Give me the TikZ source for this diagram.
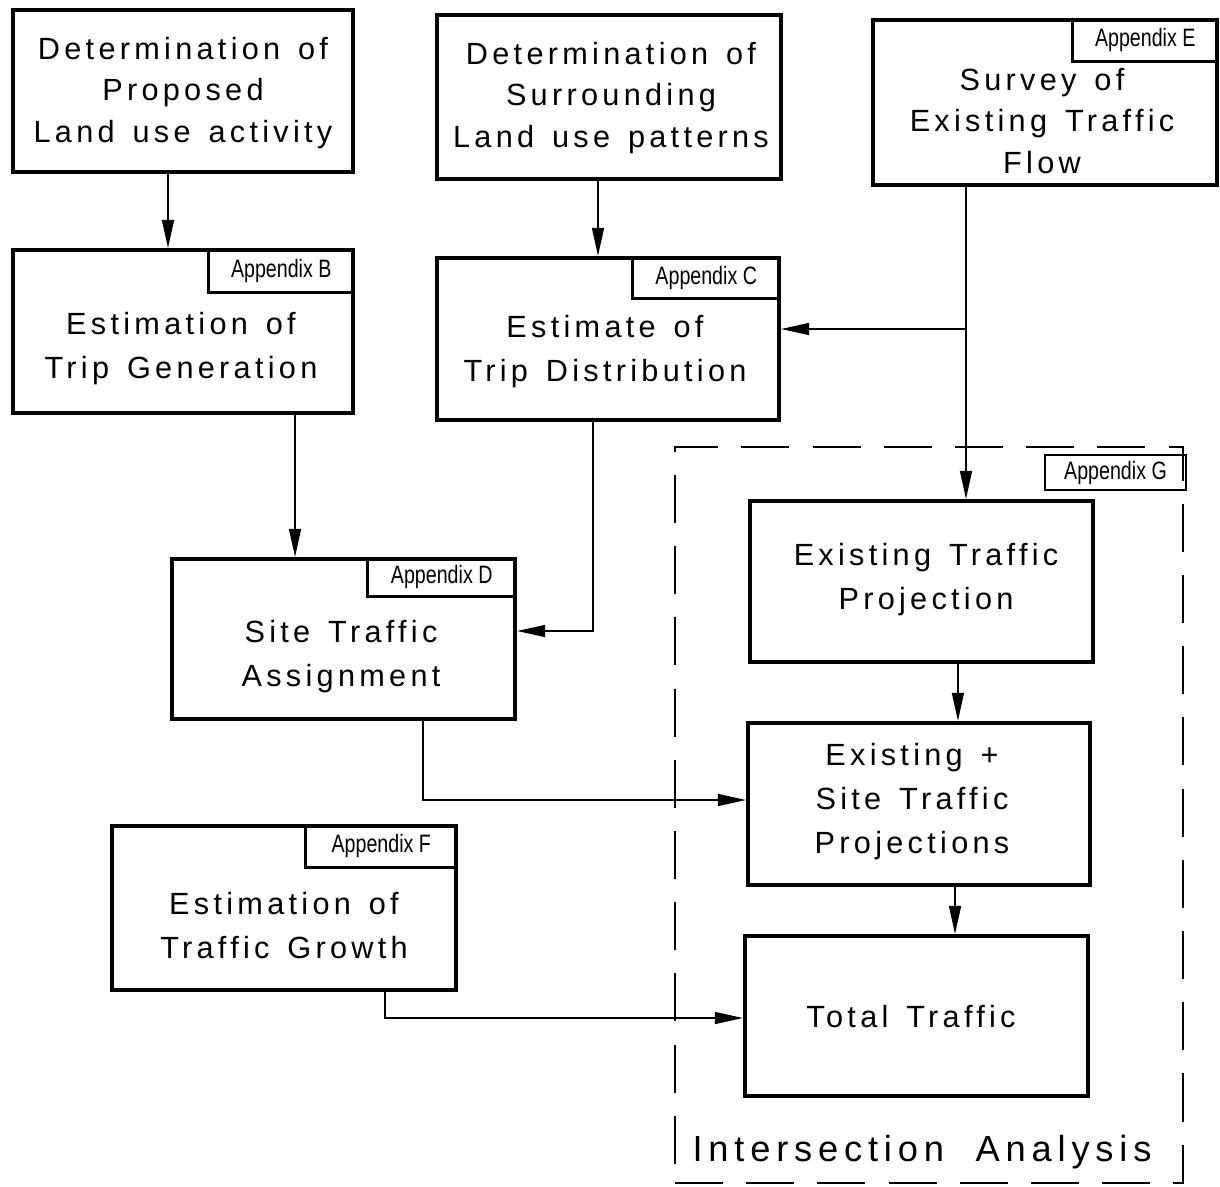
\documentclass[tikz,border=0pt]{standalone}
\usepackage{fontspec}
\setmainfont{Liberation Sans}[LetterSpace=14,WordSpace=1.4]
\newfontfamily\tabfont{Liberation Sans}[FakeStretch=0.78]
\newfontfamily\iafont{Liberation Sans}[LetterSpace=16,WordSpace=2]
\usetikzlibrary{arrows.meta,calc}
\begin{document}
\begin{tikzpicture}[x=0.025cm,y=-0.025cm,
  box/.style={draw,line width=3pt,inner sep=0pt},
  tabbox/.style={draw,line width=2pt,inner sep=0pt,font=\tabfont\fontsize{17.9}{20}\selectfont,anchor=north east},
  txt/.style={align=center,inner sep=0pt,font=\fontsize{21.8}{31.3}\selectfont},
  txtt/.style={align=center,inner sep=0pt,font=\fontsize{21.8}{29.8}\selectfont},
  arr/.style={line width=1pt,-{Triangle[length=0.7cm,width=0.3cm]}},
  region/.style={draw,line width=1.2pt,dash pattern=on 1.2cm off 0.58cm,inner sep=0pt}]
\useasboundingbox (0,0) rectangle (1220,1186);

% dashed region
\node[region,minimum width=12.7cm,minimum height=18.4cm] (ia) at (929,815) {};
\node[inner sep=0pt,font=\iafont\fontsize{25.8}{30}\selectfont] (ialab) at (922,1152) {Intersection Analysis};
\node[draw,line width=2pt,inner sep=0pt,minimum width=3.525cm,minimum height=0.875cm,font=\tabfont\fontsize{17.9}{20}\selectfont] (tg) at (1115.5,472.5) {Appendix G};

% boxes
\node[box,minimum width=8.5cm,minimum height=4.05cm] (b1) at (183,91) {};
\node[box,minimum width=8.6cm,minimum height=4.1cm] (b2) at (609,97) {};
\node[box,minimum width=8.6cm,minimum height=4.125cm] (b3) at (1045,102.5) {};
\node[box,minimum width=8.5cm,minimum height=4.075cm] (b4) at (183,331.5) {};
\node[box,minimum width=8.55cm,minimum height=4.05cm] (b5) at (608,339) {};
\node[box,minimum width=8.575cm,minimum height=4.0cm] (b6) at (343.5,639) {};
\node[box,minimum width=8.6cm,minimum height=4.1cm] (b7) at (284,908) {};
\node[box,minimum width=8.575cm,minimum height=4.025cm] (b8) at (921.5,581.5) {};
\node[box,minimum width=8.55cm,minimum height=4.05cm] (b9) at (919,804) {};
\node[box,minimum width=8.575cm,minimum height=4.0cm] (b10) at (916.5,1016) {};

% tabs
\node[tabbox,minimum width=3.625cm,minimum height=1.075cm] (tb) at (b4.north east) {Appendix B};
\node[tabbox,minimum width=3.675cm,minimum height=1.025cm] (tc) at (b5.north east) {Appendix C};
\node[tabbox,minimum width=3.7cm,minimum height=0.95cm] (td) at (b6.north east) {Appendix D};
\node[tabbox,minimum width=3.625cm,minimum height=1.05cm] (te) at (b3.north east) {Appendix E};
\node[tabbox,minimum width=3.775cm,minimum height=1.05cm] (tf) at (b7.north east) {Appendix F};

% texts
\node[txtt] (t1) at (183,93) {Determination of\\Proposed\\Land use activity};
\node[txtt] (t2) at (611,98) {Determination of\\Surrounding\\Land use patterns};
\node[txtt] (t3) at (1042,121) {Survey of\\Existing Traffic\\Flow};
\node[txt] (t4) at (181,349) {Estimation of\\Trip Generation};
\node[txt] (t5) at (605,352) {Estimate of\\Trip Distribution};
\node[txt] (t6) at (341,657) {Site Traffic\\Assignment};
\node[txt] (t7) at (284,926) {Estimation of\\Traffic Growth};
\node[txt] (t8) at (926,580) {Existing Traffic\\Projection};
\node[txt] (t9) at (912,802) {Existing +\\Site Traffic\\Projections};
\node[txt] (t10) at (911,1017) {Total Traffic};

% connectors
\coordinate (s1) at ([xshift=-0.375cm]b1.south);
\draw[arr] (s1) -- (s1 |- b4.north);
\coordinate (s2) at ([xshift=-0.275cm]b2.south);
\draw[arr] (s2) -- (s2 |- b5.north);
\coordinate (s3) at ([xshift=-1.975cm]b3.south);
\draw[arr] (s3) -- (s3 |- b8.north);
\coordinate (e5) at ([yshift=0.25cm]b5.east);
\coordinate (j3) at (s3 |- e5);
\draw[arr] (j3) -- (e5);
\coordinate (s4) at ([xshift=2.8cm]b4.south);
\draw[arr] (s4) -- (s4 |- b6.north);
\coordinate (s5) at ([xshift=-0.375cm]b5.south);
\coordinate (e6) at ([yshift=0.2cm]b6.east);
\draw[arr] (s5) |- (e6);
\coordinate (s6) at ([xshift=1.99cm]b6.south);
\coordinate (w9) at ([yshift=0.1cm]b9.west);
\draw[arr] (s6) |- (w9);
\coordinate (s8) at ([xshift=0.91cm]b8.south);
\draw[arr] (s8) -- (s8 |- b9.north);
\coordinate (s9) at ([xshift=0.9cm]b9.south);
\draw[arr] (s9) -- (s9 |- b10.north);
\coordinate (s7) at ([xshift=2.525cm]b7.south);
\coordinate (w10) at ([yshift=-0.05cm]b10.west);
\draw[arr] (s7) |- (w10);
\end{tikzpicture}
\end{document}
